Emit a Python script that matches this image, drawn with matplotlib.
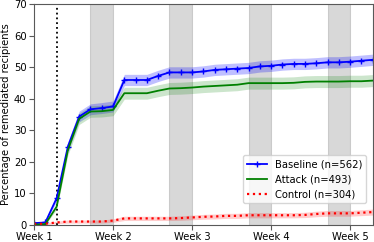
import numpy as np
import matplotlib
matplotlib.use('Agg')
import matplotlib.pyplot as plt

# days since start of campaign
days = list(range(0, 31))

baseline = [0.5, 0.7, 8.4, 24.8, 34.3, 36.6, 37.0, 37.5, 45.9, 45.9, 45.9, 47.2, 48.3, 48.3, 48.3, 48.6,
            49.1, 49.3, 49.5, 49.7, 50.2, 50.4, 50.8, 51.0, 51.0, 51.2, 51.5, 51.5, 51.7, 52.0, 52.3]
attack = [0.0, 0.2, 5.7, 23.7, 33.6, 35.9, 36.0, 36.4, 41.7, 41.7, 41.7, 42.5, 43.2, 43.3, 43.5, 43.8,
          44.0, 44.2, 44.4, 44.9, 44.9, 44.9, 44.9, 45.0, 45.3, 45.4, 45.4, 45.4, 45.5, 45.5, 45.7]
control = [0.3, 0.3, 0.7, 1.0, 1.0, 1.0, 1.0, 1.3, 2.0, 2.0, 2.0, 2.0, 2.0, 2.1, 2.3, 2.5,
           2.6, 2.8, 2.8, 3.0, 3.0, 3.0, 3.0, 3.0, 3.1, 3.4, 3.6, 3.6, 3.6, 3.8, 4.0]

n_baseline = 562
n_attack = 493
n_control = 304

week_ticks = [0, 7, 14, 21, 28]
week_labels = ['Week 1', 'Week 2', 'Week 3', 'Week 4', 'Week 5']
weekends = [(5, 7), (12, 14), (19, 21), (26, 28)]
campaign_day = 2


def stderr(vals, n):
    p = np.array(vals) / 100.0
    return 0.85 * np.sqrt(p * (1 - p) / n) * 100


plt.rcParams['font.size'] = 7.2
plt.rcParams['axes.edgecolor'] = '0.35'
plt.rcParams['xtick.color'] = '0.35'
plt.rcParams['ytick.color'] = '0.35'
plt.rcParams['xtick.labelcolor'] = 'black'
plt.rcParams['ytick.labelcolor'] = 'black'

fig = plt.figure(figsize=(3.74, 2.42), dpi=100)
ax = fig.add_axes([0.091, 0.0715, 0.9055, 0.912])

for a, b in weekends:
    ax.axvspan(a, b, color='grey', alpha=0.3, lw=0.8)

ax.axvline(campaign_day, color='black', ls=':', lw=1.3)

x = np.array(days)
for vals, n, col, alpha in [(baseline, n_baseline, 'b', 0.25), (attack, n_attack, 'g', 0.2),
                            (control, n_control, 'r', 0.2)]:
    v = np.array(vals)
    e = stderr(vals, n)
    ax.fill_between(x, v - e, v + e, color=col, alpha=alpha, lw=0)

ax.plot(x, baseline, color='b', marker='+', ms=5, lw=1.3, label='Baseline (n=%d)' % n_baseline)
ax.plot(x, attack, color='g', lw=1.3, label='Attack (n=%d)' % n_attack)
ax.plot(x, control, color='r', ls=':', lw=1.6, label='Control (n=%d)' % n_control)

ax.set_xlim(0, 30)
ax.set_ylim(0, 70)
ax.set_xticks(week_ticks)
ax.set_xticklabels(week_labels)
ax.set_yticks(range(0, 71, 10))
ax.tick_params(axis='x', pad=1.5)
ax.tick_params(axis='y', pad=2)
ax.set_ylabel('Percentage of remediated recipients', labelpad=2)

ax.legend(loc='lower right', bbox_to_anchor=(0.995, 0.075), fontsize=7.2)

plt.savefig('out.png', dpi=100)
